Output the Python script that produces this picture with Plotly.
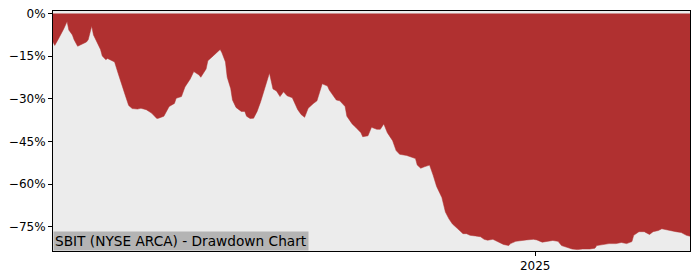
import plotly.graph_objects as go

dates = [
    "2024-04-02", "2024-04-03", "2024-04-05", "2024-04-07", "2024-04-08", "2024-04-10",
    "2024-04-11", "2024-04-13", "2024-04-14", "2024-04-16", "2024-04-18", "2024-04-21",
    "2024-04-22", "2024-04-24", "2024-04-25", "2024-04-27", "2024-04-29", "2024-04-30",
    "2024-05-02", "2024-05-03", "2024-05-05", "2024-05-07", "2024-05-09", "2024-05-11",
    "2024-05-13", "2024-05-15", "2024-05-17", "2024-05-20", "2024-05-22", "2024-05-25",
    "2024-05-28", "2024-05-31", "2024-06-01", "2024-06-04", "2024-06-07", "2024-06-10",
    "2024-06-11", "2024-06-14", "2024-06-16", "2024-06-19", "2024-06-21", "2024-06-24",
    "2024-06-25", "2024-06-28", "2024-06-29", "2024-07-02", "2024-07-04", "2024-07-06",
    "2024-07-07", "2024-07-09", "2024-07-10", "2024-07-12", "2024-07-13", "2024-07-15",
    "2024-07-18", "2024-07-20", "2024-07-21", "2024-07-23", "2024-07-25", "2024-07-27",
    "2024-07-29", "2024-07-31", "2024-08-03", "2024-08-05", "2024-08-07", "2024-08-09",
    "2024-08-11", "2024-08-13", "2024-08-16", "2024-08-19", "2024-08-21", "2024-08-23",
    "2024-08-25", "2024-08-28", "2024-08-30", "2024-09-02", "2024-09-05", "2024-09-06",
    "2024-09-10", "2024-09-12", "2024-09-15", "2024-09-16", "2024-09-19", "2024-09-21",
    "2024-09-24", "2024-09-25", "2024-09-28", "2024-09-30", "2024-10-03", "2024-10-05",
    "2024-10-07", "2024-10-09", "2024-10-12", "2024-10-14", "2024-10-16", "2024-10-20",
    "2024-10-23", "2024-10-25", "2024-10-26", "2024-10-28", "2024-10-30", "2024-11-02",
    "2024-11-04", "2024-11-06", "2024-11-09", "2024-11-11", "2024-11-13", "2024-11-15",
    "2024-11-18", "2024-11-21", "2024-11-23", "2024-11-25", "2024-11-28", "2024-12-01",
    "2024-12-03", "2024-12-05", "2024-12-08", "2024-12-11", "2024-12-14", "2024-12-17",
    "2024-12-18", "2024-12-21", "2024-12-24", "2024-12-27", "2024-12-31", "2025-01-02",
    "2025-01-05", "2025-01-08", "2025-01-11", "2025-01-14", "2025-01-16", "2025-01-19",
    "2025-01-22", "2025-01-25", "2025-01-28", "2025-02-01", "2025-02-04", "2025-02-05",
    "2025-02-08", "2025-02-12", "2025-02-16", "2025-02-19", "2025-02-22", "2025-02-25",
    "2025-02-26", "2025-03-01", "2025-03-04", "2025-03-06", "2025-03-07", "2025-03-09",
    "2025-03-12", "2025-03-14", "2025-03-16", "2025-03-19", "2025-03-22", "2025-03-25",
    "2025-03-28", "2025-03-30",
]

drawdown = [
    -10.0, -11.2, -9.0, -6.9, -5.5, -2.8,
    -5.8, -7.5, -9.2, -11.5, -10.9, -10.0,
    -9.2, -4.4, -7.5, -10.3, -12.6, -14.9,
    -16.2, -15.8, -16.3, -17.0, -21.0, -25.2,
    -28.6, -32.3, -33.4, -33.6, -33.3, -33.8,
    -35.0, -36.9, -36.8, -36.1, -32.7, -31.6,
    -29.8, -29.2, -25.8, -23.0, -20.4, -21.6,
    -22.4, -19.5, -16.6, -14.9, -13.8, -12.6,
    -13.8, -17.0, -22.4, -26.4, -30.4, -33.0,
    -34.4, -34.4, -36.1, -36.9, -36.8, -34.4,
    -31.0, -26.9, -20.9, -26.5, -27.2, -29.2,
    -27.5, -28.9, -29.6, -33.7, -35.5, -36.5,
    -33.3, -31.6, -30.7, -24.7, -25.5, -26.9,
    -30.4, -30.7, -32.7, -36.1, -38.8, -40.0,
    -41.9, -43.3, -43.0, -40.0, -40.7, -40.7,
    -38.8, -41.9, -44.7, -48.2, -49.5, -49.9,
    -50.5, -51.0, -53.3, -54.4, -53.9, -53.3,
    -56.8, -60.8, -64.7, -69.8, -72.2, -74.0,
    -75.7, -77.4, -77.4, -78.0, -78.2, -78.5,
    -79.4, -79.7, -79.4, -80.2, -81.2, -81.6,
    -80.9, -80.1, -79.8, -79.6, -79.4, -79.6,
    -80.4, -80.1, -79.8, -80.1, -81.6, -82.2,
    -82.8, -83.0, -82.8, -82.8, -82.5, -81.6,
    -81.2, -80.9, -80.9, -80.5, -80.9, -80.2,
    -78.0, -76.7, -76.7, -77.4, -77.7, -76.7,
    -76.3, -75.7, -76.0, -76.3, -76.7, -77.0,
    -78.0, -78.3,
]

y_ticks = [0, -15, -30, -45, -60, -75]
y_tick_text = ["0%", "\u221215%", "\u221230%", "\u221245%", "\u221260%", "\u221275%"]
x_ticks = ["2025-01-01"]
x_tick_text = ["2025"]
title_text = "SBIT (NYSE ARCA) - Drawdown Chart"

fig = go.Figure()
fig.add_trace(go.Scatter(
    x=dates, y=drawdown, mode="lines", fill="tozeroy",
    fillcolor="#b03030", line=dict(color="#b03030", width=0.5),
    hoverinfo="skip", showlegend=False,
))

axis_common = dict(
    showline=True, linecolor="black", linewidth=1, mirror=True,
    ticks="outside", ticklen=4, tickwidth=1, tickcolor="black",
    showgrid=False, zeroline=False,
    tickfont=dict(family="DejaVu Sans", size=12, color="black"),
)

fig.update_layout(
    width=700, height=280,
    margin=dict(l=53, r=10, t=7, b=28),
    paper_bgcolor="white", plot_bgcolor="#ececec",
    xaxis=dict(range=["2024-04-02", "2025-03-30"], tickvals=x_ticks, ticktext=x_tick_text, **axis_common),
    yaxis=dict(range=[-83.5, 0.9], tickvals=y_ticks, ticktext=y_tick_text, **axis_common),
    annotations=[dict(
        text=title_text, xref="paper", yref="paper", x=0, y=0,
        xanchor="left", yanchor="bottom", showarrow=False,
        bgcolor="#b4b4b4", borderpad=1,
        font=dict(family="DejaVu Sans", size=13.7, color="black"),
    )],
)

fig.write_html("out.html")
